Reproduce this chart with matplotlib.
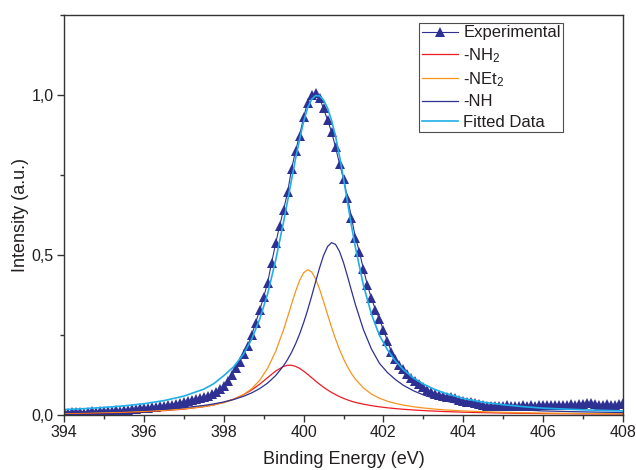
import numpy as np
import matplotlib
matplotlib.use("Agg")
import matplotlib.pyplot as plt
from matplotlib.ticker import MultipleLocator, FuncFormatter

plt.rcParams['font.family'] = ['Liberation Sans', 'DejaVu Sans']
plt.rcParams['mathtext.fontset'] = 'custom'
plt.rcParams['mathtext.rm'] = 'Liberation Sans'
plt.rcParams['mathtext.it'] = 'Liberation Sans:italic'

# --- Experimental spectrum, 0.1 eV step ---
exp_energy = np.round(np.arange(394.0, 408.01, 0.1), 1)
exp_intensity = [
    0.008, 0.007, 0.009, 0.008, 0.010, 0.007, 0.009, 0.011, 0.010, 0.012,
    0.011, 0.013, 0.012, 0.015, 0.013, 0.016, 0.015, 0.018, 0.017, 0.020,
    0.021, 0.020, 0.023, 0.024, 0.026, 0.027, 0.030, 0.031, 0.035, 0.037,
    0.040, 0.043, 0.046, 0.049, 0.052, 0.055, 0.059, 0.064, 0.071, 0.080,
    0.090, 0.105, 0.124, 0.145, 0.166, 0.189, 0.215, 0.249, 0.287, 0.326,
    0.367, 0.413, 0.475, 0.535, 0.590, 0.641, 0.695, 0.768, 0.825, 0.872,
    0.929, 0.975, 1.000, 1.005, 0.988, 0.957, 0.920, 0.884, 0.836, 0.784,
    0.737, 0.678, 0.615, 0.553, 0.508, 0.455, 0.404, 0.364, 0.328, 0.299,
    0.264, 0.231, 0.196, 0.174, 0.156, 0.142, 0.127, 0.116, 0.106, 0.096,
    0.087, 0.077, 0.070, 0.066, 0.062, 0.059, 0.056, 0.054, 0.051, 0.047,
    0.044, 0.041, 0.039, 0.037, 0.035, 0.030, 0.028, 0.026, 0.028, 0.027,
    0.026, 0.029, 0.027, 0.028, 0.026, 0.029, 0.027, 0.030, 0.028, 0.031,
    0.029, 0.032, 0.029, 0.031, 0.030, 0.032, 0.031, 0.033, 0.031, 0.034,
    0.033, 0.036, 0.038, 0.034, 0.032, 0.030, 0.033, 0.031, 0.030, 0.033,
    0.036,
]

# --- Fit components ---
fit_energy = [
    394.0, 394.5, 395.0, 395.5, 396.0, 396.5, 397.0, 397.5, 397.75, 398.0,
    398.25, 398.5, 398.7, 398.9, 399.1, 399.3, 399.5, 399.6, 399.7, 399.8,
    399.9, 400.0, 400.1, 400.2, 400.3, 400.4, 400.5, 400.6, 400.7, 400.8,
    400.9, 401.0, 401.1, 401.2, 401.3, 401.5, 401.7, 401.9, 402.1, 402.3,
    402.5, 402.75, 403.0, 403.25, 403.5, 404.0, 404.5, 405.0, 405.5, 406.0,
    407.0, 408.0,
]
nh2 = [
    0.0043, 0.0051, 0.0062, 0.0077, 0.0098, 0.0129, 0.0177, 0.0253, 0.0310, 0.0386,
    0.0489, 0.0629, 0.0775, 0.0955, 0.1161, 0.1365, 0.1512, 0.1546, 0.1546, 0.1512,
    0.1450, 0.1365, 0.1266, 0.1161, 0.1056, 0.0955, 0.0861, 0.0775, 0.0698, 0.0629,
    0.0568, 0.0513, 0.0465, 0.0423, 0.0386, 0.0330, 0.0285, 0.0248, 0.0218, 0.0193,
    0.0172, 0.0150, 0.0131, 0.0116, 0.0102, 0.0082, 0.0066, 0.0054, 0.0045, 0.0038,
    0.0028, 0.0022,
]
net2 = [
    0.0050, 0.0059, 0.0071, 0.0086, 0.0108, 0.0139, 0.0184, 0.0256, 0.0309, 0.0380,
    0.0481, 0.0632, 0.0813, 0.1076, 0.1452, 0.1977, 0.2660, 0.3053, 0.3460, 0.3854,
    0.4194, 0.4433, 0.4530, 0.4464, 0.4251, 0.3928, 0.3541, 0.3134, 0.2737, 0.2369,
    0.2038, 0.1748, 0.1498, 0.1286, 0.1108, 0.0835, 0.0647, 0.0517, 0.0424, 0.0355,
    0.0302, 0.0251, 0.0212, 0.0181, 0.0156, 0.0120, 0.0095, 0.0077, 0.0064, 0.0053,
    0.0039, 0.0030,
]
nh = [
    0.0070, 0.0081, 0.0096, 0.0115, 0.0139, 0.0173, 0.0221, 0.0291, 0.0339, 0.0399,
    0.0477, 0.0578, 0.0683, 0.0817, 0.0991, 0.1222, 0.1533, 0.1727, 0.1953, 0.2216,
    0.2521, 0.2871, 0.3264, 0.3695, 0.4147, 0.4588, 0.4974, 0.5253, 0.5376, 0.5322,
    0.5101, 0.4752, 0.4326, 0.3874, 0.3433, 0.2655, 0.2054, 0.1607, 0.1320, 0.1100,
    0.0920, 0.0750, 0.0620, 0.0520, 0.0440, 0.0320, 0.0240, 0.0190, 0.0150, 0.0120,
    0.0090, 0.0070,
]
fitted = [
    0.0163, 0.0191, 0.0229, 0.0278, 0.0345, 0.0441, 0.0582, 0.0800, 0.0970, 0.1220,
    0.1500, 0.1900, 0.2360, 0.2980, 0.3780, 0.4820, 0.6030, 0.6680, 0.7350, 0.8000,
    0.8600, 0.9150, 0.9580, 0.9850, 0.9970, 0.9960, 0.9830, 0.9580, 0.9200, 0.8700,
    0.8080, 0.7380, 0.6640, 0.5900, 0.5220, 0.4040, 0.3140, 0.2480, 0.2030, 0.1680,
    0.1410, 0.1150, 0.0960, 0.0810, 0.0690, 0.0510, 0.0392, 0.0314, 0.0254, 0.0207,
    0.0154, 0.0120,
]

navy = '#2E3192'
fig = plt.figure(figsize=(6.36, 4.70), dpi=100)
ax = fig.add_axes([0.1006, 0.1175, 0.879, 0.8515])

ax.plot(exp_energy, exp_intensity, color=navy, lw=0.8, marker='^', ms=7,
        mew=0, label='Experimental')
ax.plot(fit_energy, nh2, color='#ED1C24', lw=0.9, label='-NH$_2$')
ax.plot(fit_energy, net2, color='#F7941D', lw=0.9, label='-NEt$_2$')
ax.plot(fit_energy, nh, color=navy, lw=0.9, label='-NH')
ax.plot(fit_energy, fitted, color='#1FAEE8', lw=1.2, label='Fitted Data')

ax.set_xlim(394, 408)
ax.set_ylim(0, 1.25)
ax.xaxis.set_major_locator(MultipleLocator(2))
ax.xaxis.set_minor_locator(MultipleLocator(1))
ax.yaxis.set_major_locator(MultipleLocator(0.5))
ax.yaxis.set_minor_locator(MultipleLocator(0.25))
ax.yaxis.set_major_formatter(FuncFormatter(lambda v, p: f"{v:.1f}".replace('.', ',')))

txt = '#231F20'
ax.tick_params(which='both', direction='out', top=False, right=False,
               colors='#333333', labelcolor=txt, labelsize=11.5)
ax.tick_params(which='major', length=5, width=1, pad=2.5)
ax.tick_params(which='minor', length=3, width=1)
for s in ax.spines.values():
    s.set_color('#333333')
    s.set_linewidth(1)

ax.set_xlabel('Binding Energy (eV)', fontsize=13, color=txt, labelpad=8)
ax.set_ylabel('Intensity (a.u.)', fontsize=13, color=txt, labelpad=2)

leg = ax.legend(loc='upper right', bbox_to_anchor=(0.893, 0.979), borderaxespad=0,
                fontsize=12, frameon=True, fancybox=False, edgecolor='#222222',
                borderpad=0.15, handlelength=2.2, handletextpad=0.3, labelspacing=0.33)
leg.get_frame().set_linewidth(0.8)
for t in leg.get_texts():
    t.set_color(txt)

fig.savefig('out.png', dpi=100)
